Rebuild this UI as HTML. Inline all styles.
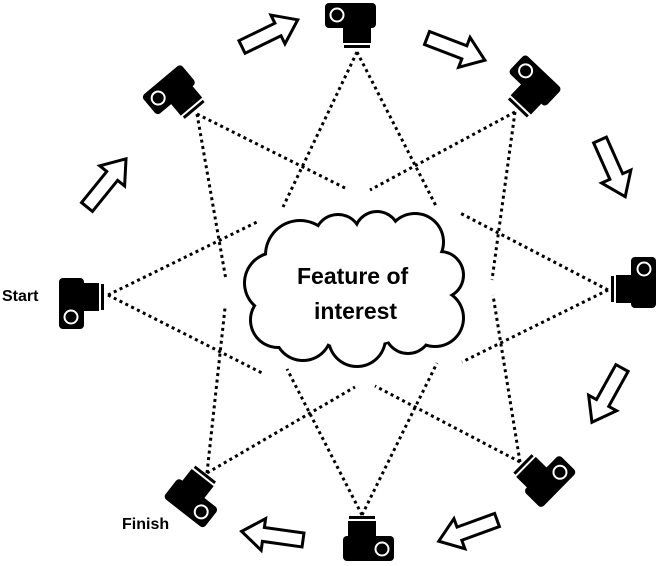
<!DOCTYPE html>
<html><head><style>
html,body{margin:0;padding:0;background:#fff;}
svg{display:block;}
.w{position:relative;width:658px;height:566px;}
.t{position:absolute;font-family:"Liberation Sans",sans-serif;font-weight:bold;color:#000;white-space:nowrap;font-variant-ligatures:none;line-height:1;}
</style></head><body>
<div class="w">
<svg width="658" height="566" viewBox="0 0 658 566" xmlns="http://www.w3.org/2000/svg" style="position:absolute;left:0;top:0">
<defs>
<g id="cam">
<rect x="-32" y="-47" width="51" height="25" rx="4" fill="#000"/>
<rect x="-14" y="-24" width="28" height="17" fill="#000"/>
<rect x="-13" y="-5" width="26" height="3" fill="#000"/>
<circle cx="-20" cy="-35" r="6.5" fill="none" stroke="#fff" stroke-width="2"/>
</g>
<polygon id="arr" points="0,-7 40,-7 40,-16 62,0 40,16 40,7 0,7" fill="#fff" stroke="#000" stroke-width="3" stroke-linejoin="miter"/>
</defs>

<g stroke="#000" stroke-width="3" stroke-dasharray="3 3.5" fill="none">
<line x1="357" y1="52" x2="283" y2="207"/>
<line x1="357" y1="52" x2="436" y2="206"/>
<line x1="515" y1="112" x2="370" y2="190"/>
<line x1="515" y1="112" x2="492" y2="280"/>
<line x1="608" y1="290" x2="460" y2="213"/>
<line x1="608" y1="290" x2="462" y2="362"/>
<line x1="520" y1="462" x2="493" y2="295"/>
<line x1="520" y1="462" x2="375" y2="386"/>
<line x1="362" y1="515" x2="287" y2="369"/>
<line x1="362" y1="515" x2="437" y2="363"/>
<line x1="207" y1="473" x2="355" y2="387"/>
<line x1="207" y1="473" x2="225" y2="308"/>
<line x1="108" y1="295" x2="257" y2="222"/>
<line x1="108" y1="295" x2="262" y2="373"/>
<line x1="197" y1="114" x2="347" y2="189"/>
<line x1="197" y1="114" x2="226" y2="280"/>
</g>

<g fill="#000">
<circle cx="300" cy="255" r="36"/><circle cx="338" cy="238" r="25"/><circle cx="377" cy="234" r="24"/><circle cx="415" cy="242" r="30"/>
<circle cx="440" cy="275" r="25"/><circle cx="435" cy="318" r="30"/><circle cx="408" cy="330" r="25"/><circle cx="357" cy="338" r="30"/>
<circle cx="303" cy="332" r="30"/><circle cx="275" cy="283" r="32"/><circle cx="278" cy="320" r="29"/><circle cx="355" cy="290" r="63"/>
<circle cx="415" cy="292" r="23"/>
</g>
<g fill="#fff">
<circle cx="300" cy="255" r="33"/><circle cx="338" cy="238" r="22"/><circle cx="377" cy="234" r="21"/><circle cx="415" cy="242" r="27"/>
<circle cx="440" cy="275" r="22"/><circle cx="435" cy="318" r="27"/><circle cx="408" cy="330" r="22"/><circle cx="357" cy="338" r="27"/>
<circle cx="303" cy="332" r="27"/><circle cx="275" cy="283" r="29"/><circle cx="278" cy="320" r="26"/><circle cx="355" cy="290" r="60"/>
<circle cx="415" cy="292" r="20"/>
<ellipse cx="360" cy="290" rx="80" ry="55"/>
</g>

<use href="#cam" transform="translate(357,50)"/>
<use href="#cam" transform="translate(516,110) rotate(43.5)"/>
<use href="#cam" transform="translate(609,289) rotate(90)"/>
<use href="#cam" transform="translate(521,462) rotate(134.5)"/>
<use href="#cam" transform="translate(362,514) rotate(180)"/>
<use href="#cam" transform="translate(207,472) rotate(-142)"/>
<use href="#cam" transform="translate(106,297) rotate(-90)"/>
<use href="#cam" transform="translate(196,112) rotate(-40)"/>

<use href="#arr" transform="translate(87,207) rotate(-51)"/>
<use href="#arr" transform="translate(242,47) rotate(-26)"/>
<use href="#arr" transform="translate(427,38) rotate(21)"/>
<use href="#arr" transform="translate(600,140) rotate(66)"/>
<use href="#arr" transform="translate(622,368) rotate(119)"/>
<use href="#arr" transform="translate(497,520) rotate(160)"/>
<use href="#arr" transform="translate(303,540) rotate(188)"/>
</svg>
<div class="t" style="left:297px;top:265px;font-size:23px;">Feature of</div>
<div class="t" style="left:314px;top:300px;font-size:23px;">interest</div>
<div class="t" style="left:2px;top:289px;font-size:16px;">Start</div>
<div class="t" style="left:122px;top:517px;font-size:16px;">Finish</div>
</div>
</body></html>
